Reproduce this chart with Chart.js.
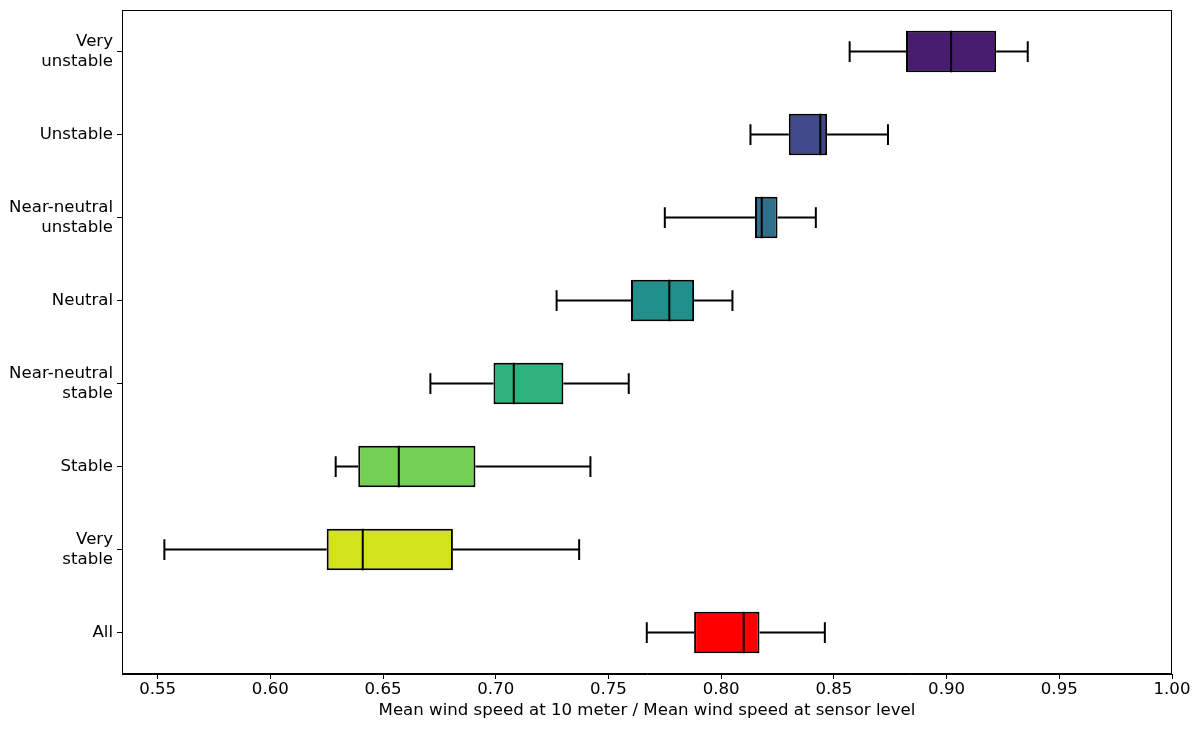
<!DOCTYPE html>
<html>
    <head>
        <title>Wind speed ratio by stability class</title>
        <meta charset="UTF-8">
        <script src="https://cdn.jsdelivr.net/npm/chart.js@4.4.0/dist/chart.umd.min.js"></script>
        <style>
            html, body { margin: 0; padding: 0; background: #fff; }
            #wrap { width: 1200px; height: 729px; position: relative; }
        </style>
        <script>
            // stability classes, top to bottom
            var categories = [['Very', 'unstable'], 'Unstable', ['Near-neutral', 'unstable'], 'Neutral',
                ['Near-neutral', 'stable'], 'Stable', ['Very', 'stable'], 'All'];

            // box plot statistics
            var whiskerLow  = [0.857, 0.813, 0.775, 0.727, 0.671, 0.629, 0.553, 0.767];
            var q1          = [0.882, 0.830, 0.815, 0.760, 0.699, 0.639, 0.625, 0.788];
            var median      = [0.902, 0.844, 0.818, 0.777, 0.708, 0.657, 0.641, 0.810];
            var q3          = [0.922, 0.847, 0.825, 0.788, 0.730, 0.691, 0.681, 0.817];
            var whiskerHigh = [0.936, 0.874, 0.842, 0.805, 0.759, 0.742, 0.737, 0.846];

            var boxColors = ['#481c6e', '#3e4a89', '#2e6f8e', '#21908d', '#2eb37c', '#73d055', '#d2e21b', '#ff0000'];

            var xTicks = [0.55, 0.60, 0.65, 0.70, 0.75, 0.80, 0.85, 0.90, 0.95, 1.00];
            var xMin = 0.5342;
            var xMax = 1.0;

            function ready(fn) {
                if (document.readyState !== "loading") {
                    fn();
                } else {
                    document.addEventListener('DOMContentLoaded', fn);
                }
            }

            // whiskers, caps, medians and the closed frame
            var boxExtras = {
                id: 'boxExtras',
                afterDatasetsDraw: function (chart) {
                    var ctx = chart.ctx;
                    var xs = chart.scales.x;
                    var meta = chart.getDatasetMeta(0);
                    ctx.save();
                    ctx.strokeStyle = '#000';
                    ctx.lineWidth = 2;
                    ctx.lineCap = 'butt';
                    meta.data.forEach(function (bar, i) {
                        var y = bar.y;
                        var h = bar.height;
                        var cap = h / 4;
                        var xLo = xs.getPixelForValue(whiskerLow[i]);
                        var xQ1 = xs.getPixelForValue(q1[i]);
                        var xMed = xs.getPixelForValue(median[i]);
                        var xQ3 = xs.getPixelForValue(q3[i]);
                        var xHi = xs.getPixelForValue(whiskerHigh[i]);
                        ctx.beginPath();
                        ctx.moveTo(xLo, y); ctx.lineTo(xQ1, y);
                        ctx.moveTo(xQ3, y); ctx.lineTo(xHi, y);
                        ctx.moveTo(xLo, y - cap); ctx.lineTo(xLo, y + cap);
                        ctx.moveTo(xHi, y - cap); ctx.lineTo(xHi, y + cap);
                        ctx.moveTo(xMed, y - h / 2); ctx.lineTo(xMed, y + h / 2);
                        ctx.stroke();
                    });
                    var a = chart.chartArea;
                    ctx.lineWidth = 1;
                    ctx.strokeStyle = '#000';
                    ctx.strokeRect(a.left + 0.5, a.top + 0.5, a.right - a.left - 1, a.bottom - a.top - 1);
                    ctx.restore();
                }
            };

            ready(function () {
                Chart.defaults.font.family = "'DejaVu Sans', sans-serif";
                Chart.defaults.font.size = 16.6;
                Chart.defaults.color = '#000';

                var boxes = q1.map(function (v, i) { return [v, q3[i]]; });

                var ctx = document.getElementById('myChart').getContext('2d');
                new Chart(ctx, {
                    type: 'bar',
                    data: {
                        labels: categories,
                        datasets: [{
                            data: boxes,
                            backgroundColor: boxColors,
                            borderColor: '#000',
                            borderWidth: 2,
                            borderSkipped: false,
                            barPercentage: 0.5,
                            categoryPercentage: 1.0
                        }]
                    },
                    options: {
                        indexAxis: 'y',
                        responsive: true,
                        maintainAspectRatio: false,
                        animation: false,
                        layout: { padding: { top: 10, right: 28, left: 0, bottom: 0 } },
                        plugins: {
                            legend: { display: false },
                            tooltip: { enabled: false }
                        },
                        scales: {
                            x: {
                                type: 'linear',
                                min: xMin,
                                max: xMax,
                                afterBuildTicks: function (scale) {
                                    scale.ticks = xTicks.map(function (v) { return { value: v }; });
                                },
                                afterFit: function (scale) {
                                    scale.height = 55;
                                    scale.paddingLeft = 0;
                                    scale.paddingRight = 0;
                                },
                                ticks: {
                                    padding: 1,
                                    maxRotation: 0,
                                    callback: function (v) { return v.toFixed(2); }
                                },
                                grid: { drawOnChartArea: false, drawTicks: true, tickLength: 5, color: '#000' },
                                border: { display: true, color: '#000', width: 1 },
                                title: {
                                    display: true,
                                    text: 'Mean wind speed at 10 meter / Mean wind speed at sensor level',
                                    padding: { top: 0, bottom: 8 }
                                }
                            },
                            y: {
                                afterFit: function (scale) {
                                    scale.width = 122;
                                    scale.paddingTop = 0;
                                    scale.paddingBottom = 0;
                                },
                                ticks: { padding: 4 },
                                grid: { offset: false, drawOnChartArea: false, drawTicks: true, tickLength: 5, color: '#000' },
                                border: { display: true, color: '#000', width: 1 }
                            }
                        }
                    },
                    plugins: [boxExtras]
                });
            });
        </script>
    </head>
    <body>
        <div id="wrap">
            <canvas id="myChart"></canvas>
        </div>
    </body>
</html>
